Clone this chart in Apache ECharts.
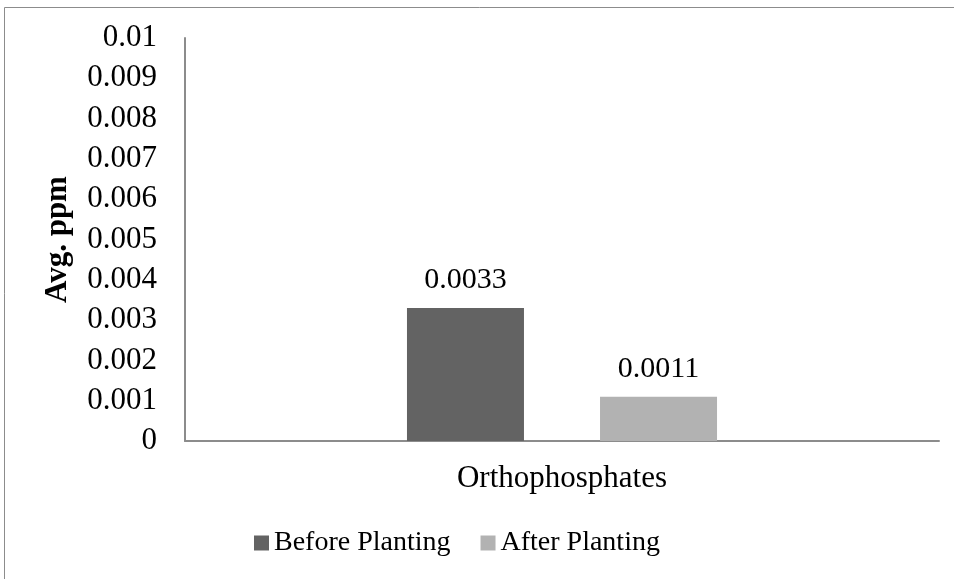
<!DOCTYPE html>
<html>
<head>
<meta charset="utf-8">
<script src="https://cdn.jsdelivr.net/npm/echarts@6/dist/echarts.min.js"></script>
<style>
  html, body { margin: 0; padding: 0; background: #fff; }
  #chart { width: 954px; height: 579px; }
</style>
</head>
<body>
<div id="chart"></div>
<script>
// data
const categories = ['Orthophosphates'];
const seriesNames = ['Before Planting', 'After Planting'];
const beforeValues = [0.0033];
const afterValues = [0.0011];
const yLabels = ['0', '0.001', '0.002', '0.003', '0.004', '0.005', '0.006', '0.007', '0.008', '0.009', '0.01'];

const serif = '"Liberation Serif", "Times New Roman", serif';

const chart = echarts.init(document.getElementById('chart'));

const labelStyle = {
    show: true,
    position: 'top',
    distance: 13,
    fontFamily: serif,
    fontSize: 30,
    color: '#000',
    formatter: p => p.value.toFixed(4)
};

chart.setOption({
    animation: false,
    backgroundColor: '#fff',
    textStyle: { fontFamily: serif, color: '#000' },
    graphic: [{
        type: 'rect',
        shape: { x: 4.5, y: 7.5, width: 1000, height: 700 },
        style: { fill: 'none', stroke: '#8c8c8c', lineWidth: 1 },
        silent: true
    }],
    grid: { left: 185, right: 15, top: 38, bottom: 138 },
    legend: {
        data: seriesNames,
        left: 249,
        top: 524,
        icon: 'rect',
        itemWidth: 15,
        itemHeight: 15,
        itemGap: 30,
        textStyle: { fontFamily: serif, fontSize: 28, color: '#000' }
    },
    xAxis: {
        type: 'category',
        data: categories,
        axisLine: { lineStyle: { color: '#8c8c8c', width: 2 } },
        axisTick: { show: false },
        axisLabel: { fontFamily: serif, fontSize: 31, color: '#000', margin: 22 }
    },
    yAxis: {
        type: 'value',
        min: 0,
        max: 0.01,
        interval: 0.001,
        name: 'Avg. ppm',
        nameLocation: 'middle',
        nameGap: 112,
        nameTextStyle: { fontFamily: serif, fontSize: 31, fontWeight: 'bold', color: '#000' },
        axisLine: { show: true, lineStyle: { color: '#8c8c8c', width: 2 } },
        axisTick: { show: false },
        splitLine: { show: false },
        axisLabel: {
            fontFamily: serif,
            fontSize: 31,
            color: '#000',
            margin: 28,
            formatter: (v, i) => yLabels[i]
        }
    },
    series: [
        {
            name: seriesNames[0],
            type: 'bar',
            data: beforeValues,
            barWidth: 117,
            barGap: '65%',
            itemStyle: { color: '#636363' },
            label: labelStyle
        },
        {
            name: seriesNames[1],
            type: 'bar',
            data: afterValues,
            barWidth: 117,
            barGap: '65%',
            itemStyle: { color: '#b2b2b2' },
            label: labelStyle
        }
    ]
});
</script>
</body>
</html>
